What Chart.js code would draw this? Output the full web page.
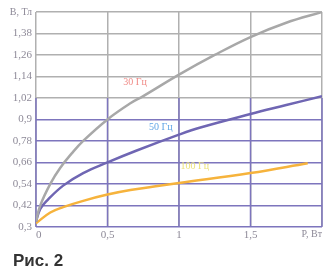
<!DOCTYPE html>
<html><head><meta charset="utf-8">
<script src="https://cdn.jsdelivr.net/npm/chart.js@4/dist/chart.umd.min.js"></script>
<style>html,body{margin:0;padding:0;background:#fff;}#wrap{width:325px;height:275px;}</style>
</head><body><div id="wrap"><canvas id="c" width="325" height="275"></canvas></div>
<script>
const xTicks = [0, 0.5, 1, 1.5, 2];
const xTickLabels = ['0', '0,5', '1', '1,5', 'P, Вт'];
const yTicks = [0.3, 0.42, 0.54, 0.66, 0.78, 0.9, 1.02, 1.14, 1.26, 1.38, 1.5];
const yTickLabels = ['0,3', '0,42', '0,54', '0,66', '0,78', '0,9', '1,02', '1,14', '1,26', '1,38', 'B, Тл'];
const caption = 'Рис. 2';

const seriesNames = ['30 Гц', '50 Гц', '100 Гц'];
const x30 = [0, 0.03, 0.1, 0.17, 0.25, 0.33, 0.5, 0.66, 0.75, 1, 1.25, 1.5, 1.75, 2];
const y30 = [0.33, 0.42, 0.54, 0.63, 0.71, 0.78, 0.9, 0.99, 1.03, 1.15, 1.26, 1.36, 1.44, 1.5];
const x50 = [0, 0.03, 0.075, 0.19, 0.33, 0.5, 0.7, 1, 1.15, 1.5, 1.75, 2];
const y50 = [0.33, 0.40, 0.445, 0.53, 0.6, 0.66, 0.725, 0.815, 0.855, 0.93, 0.98, 1.03];
const x100 = [0, 0.1, 0.19, 0.33, 0.5, 0.66, 0.85, 1, 1.5, 1.9];
const y100 = [0.32, 0.38, 0.41, 0.445, 0.48, 0.505, 0.528, 0.545, 0.6, 0.655];

const GREY = '#b0b0b0', PURPLE = '#7d75bd';
const purpleTop = 1.02;
const labelSpots = [{x: 0.61, y: 1.107, color: '#f08a86'}, {x: 0.79, y: 0.855, color: '#62a6e6'}, {x: 1.01, y: 0.64, color: '#ece27a'}];

const pts = (xs, ys) => xs.map((x, i) => ({x, y: ys[i]}));

const extras = {
  id: 'extras',
  beforeDatasetsDraw(chart) {
    const {ctx, scales: {x, y}} = chart;
    ctx.save();
    ctx.strokeStyle = PURPLE; ctx.lineWidth = 1.5;
    xTicks.forEach(v => {
      const px = x.getPixelForValue(v);
      ctx.beginPath();
      ctx.moveTo(px, y.getPixelForValue(yTicks[0]));
      ctx.lineTo(px, y.getPixelForValue(purpleTop));
      ctx.stroke();
    });
    ctx.restore();
  },
  afterDatasetsDraw(chart) {
    const {ctx, scales: {x, y}} = chart;
    ctx.save();
    ctx.font = '10px "Liberation Serif"';
    ctx.textBaseline = 'middle';
    labelSpots.forEach((s, i) => {
      ctx.fillStyle = s.color;
      ctx.fillText(seriesNames[i], x.getPixelForValue(s.x), y.getPixelForValue(s.y));
    });
    ctx.restore();
  },
  afterDraw(chart) {
    const {ctx} = chart;
    ctx.save();
    ctx.font = 'bold 17px "Liberation Sans", Arial, sans-serif';
    ctx.fillStyle = '#333333';
    ctx.textBaseline = 'middle';
    ctx.fillText(caption, 13, chart.height - 14);
    ctx.restore();
  }
};

new Chart(document.getElementById('c'), {
  type: 'line',
  data: {
    datasets: [
      {label: seriesNames[0], data: pts(x30, y30), borderColor: '#a8a8a8', borderWidth: 2.5, tension: 0.4, pointRadius: 0},
      {label: seriesNames[1], data: pts(x50, y50), borderColor: '#6f66b3', borderWidth: 2.5, tension: 0.4, pointRadius: 0},
      {label: seriesNames[2], data: pts(x100, y100), borderColor: '#f6b33c', borderWidth: 2.5, tension: 0.4, pointRadius: 0}
    ]
  },
  options: {
    responsive: false,
    animation: false,
    layout: {padding: {top: 12, right: 3, left: 0, bottom: 31}},
    plugins: {legend: {display: false}, tooltip: {enabled: false}},
    scales: {
      x: {
        type: 'linear', min: 0, max: 2,
        afterBuildTicks: s => { s.ticks = xTicks.map(v => ({value: v})); },
        ticks: {callback: (v, i) => xTickLabels[i], color: '#8e8a98', align: 'inner', padding: 2, maxRotation: 0,
          font: c => ({family: '"Liberation Serif"', size: c.index === 4 ? 10 : 11})},
        grid: {color: GREY, lineWidth: 1.5, drawTicks: false},
        border: {display: false}
      },
      y: {
        type: 'linear', min: 0.3, max: 1.5,
        afterBuildTicks: s => { s.ticks = yTicks.map(v => ({value: v})); },
        afterFit: s => { s.width = 36; },
        ticks: {callback: (v, i) => yTickLabels[i], color: '#8e8a98', padding: 4,
          font: c => ({family: '"Liberation Serif"', size: c.index === 10 ? 10 : 11})},
        grid: {color: c => (c.tick && c.tick.value <= 0.9) ? PURPLE : GREY, lineWidth: 1.5, drawTicks: false},
        border: {display: false}
      }
    }
  },
  plugins: [extras]
});
</script></body></html>
